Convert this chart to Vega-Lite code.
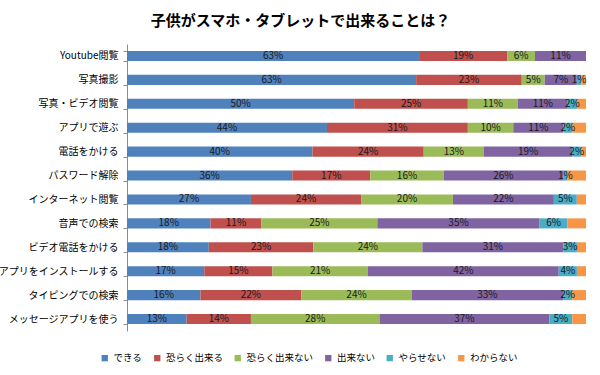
{
 "$schema": "https://vega.github.io/schema/vega-lite/v6.json",
 "width": 459, "height": 287,
 "autosize": {"type": "none"},
 "padding": {"left": 127, "top": 44, "right": 14, "bottom": 44},
 "config": {"font": "Noto Sans CJK JP", "view": {"stroke": null}},
 "title": {"text": "子供がスマホ・タブレットで出来ることは？", "fontSize": 15, "fontWeight": "bold", "anchor": "middle", "dx": -56, "offset": 10, "color": "#000"},
 "data": {"values": [
  {"item": "Youtube閲覧", "できる": 63, "恐らく出来る": 19, "恐らく出来ない": 6, "出来ない": 11, "やらせない": 0, "わからない": 0},
  {"item": "写真撮影", "できる": 63, "恐らく出来る": 23, "恐らく出来ない": 5, "出来ない": 7, "やらせない": 1, "わからない": 1},
  {"item": "写真・ビデオ閲覧", "できる": 50, "恐らく出来る": 25, "恐らく出来ない": 11, "出来ない": 11, "やらせない": 2, "わからない": 2},
  {"item": "アプリで遊ぶ", "できる": 44, "恐らく出来る": 31, "恐らく出来ない": 10, "出来ない": 11, "やらせない": 2, "わからない": 3},
  {"item": "電話をかける", "できる": 40, "恐らく出来る": 24, "恐らく出来ない": 13, "出来ない": 19, "やらせない": 2, "わからない": 1},
  {"item": "パスワード解除", "できる": 36, "恐らく出来る": 17, "恐らく出来ない": 16, "出来ない": 26, "やらせない": 1, "わからない": 4},
  {"item": "インターネット閲覧", "できる": 27, "恐らく出来る": 24, "恐らく出来ない": 20, "出来ない": 22, "やらせない": 5, "わからない": 2},
  {"item": "音声での検索", "できる": 18, "恐らく出来る": 11, "恐らく出来ない": 25, "出来ない": 35, "やらせない": 6, "わからない": 4},
  {"item": "ビデオ電話をかける", "できる": 18, "恐らく出来る": 23, "恐らく出来ない": 24, "出来ない": 31, "やらせない": 3, "わからない": 2},
  {"item": "アプリをインストールする", "できる": 17, "恐らく出来る": 15, "恐らく出来ない": 21, "出来ない": 42, "やらせない": 4, "わからない": 2},
  {"item": "タイピングでの検索", "できる": 16, "恐らく出来る": 22, "恐らく出来ない": 24, "出来ない": 33, "やらせない": 2, "わからない": 3},
  {"item": "メッセージアプリを使う", "できる": 13, "恐らく出来る": 14, "恐らく出来ない": 28, "出来ない": 37, "やらせない": 5, "わからない": 3}
 ]},
 "transform": [
  {"fold": ["できる", "恐らく出来る", "恐らく出来ない", "出来ない", "やらせない", "わからない"], "as": ["cat", "pct"]},
  {"calculate": "indexof(['できる','恐らく出来る','恐らく出来ない','出来ない','やらせない','わからない'], datum.cat)", "as": "k"},
  {"stack": "pct", "groupby": ["item"], "sort": [{"field": "k", "order": "ascending"}], "offset": "normalize", "as": ["p0", "p1"]},
  {"calculate": "(datum.p0 + datum.p1) / 2", "as": "pm"}
 ],
 "encoding": {
  "y": {"field": "item", "type": "nominal", "sort": null,
        "scale": {"paddingInner": 0.58, "paddingOuter": 0.29},
        "axis": {"title": null, "domainColor": "#8c8c8c", "tickColor": "#8c8c8c", "tickSize": 4, "tickBand": "extent", "labelFontSize": 10, "labelColor": "#000", "labelPadding": 5, "grid": false}}
 },
 "layer": [
  {"mark": {"type": "bar"},
   "encoding": {
    "x": {"field": "p0", "type": "quantitative", "scale": {"domain": [0, 1], "nice": false}, "axis": null},
    "x2": {"field": "p1"},
    "color": {"field": "cat", "type": "nominal",
      "scale": {"domain": ["できる", "恐らく出来る", "恐らく出来ない", "出来ない", "やらせない", "わからない"],
                "range": ["#4F81BD", "#C0504D", "#9BBB59", "#8064A2", "#4BACC6", "#F79646"]},
      "legend": {"orient": "none", "legendX": -27, "legendY": 309, "direction": "horizontal", "title": null, "symbolType": "square", "symbolSize": 40, "symbolStrokeWidth": 0, "labelFontSize": 9.5, "labelOffset": 4, "columnPadding": 9.5, "labelColor": "#000"}}
   }},
  {"transform": [
     {"filter": "datum.cat !== 'わからない' && datum.pct > 0"},
     {"calculate": "datum.pct + '%'", "as": "lbl"}
   ],
   "mark": {"type": "text", "fontSize": 10, "color": "#1a1a1a"},
   "encoding": {
    "x": {"field": "pm", "type": "quantitative"},
    "text": {"field": "lbl"}
   }}
 ]
}
